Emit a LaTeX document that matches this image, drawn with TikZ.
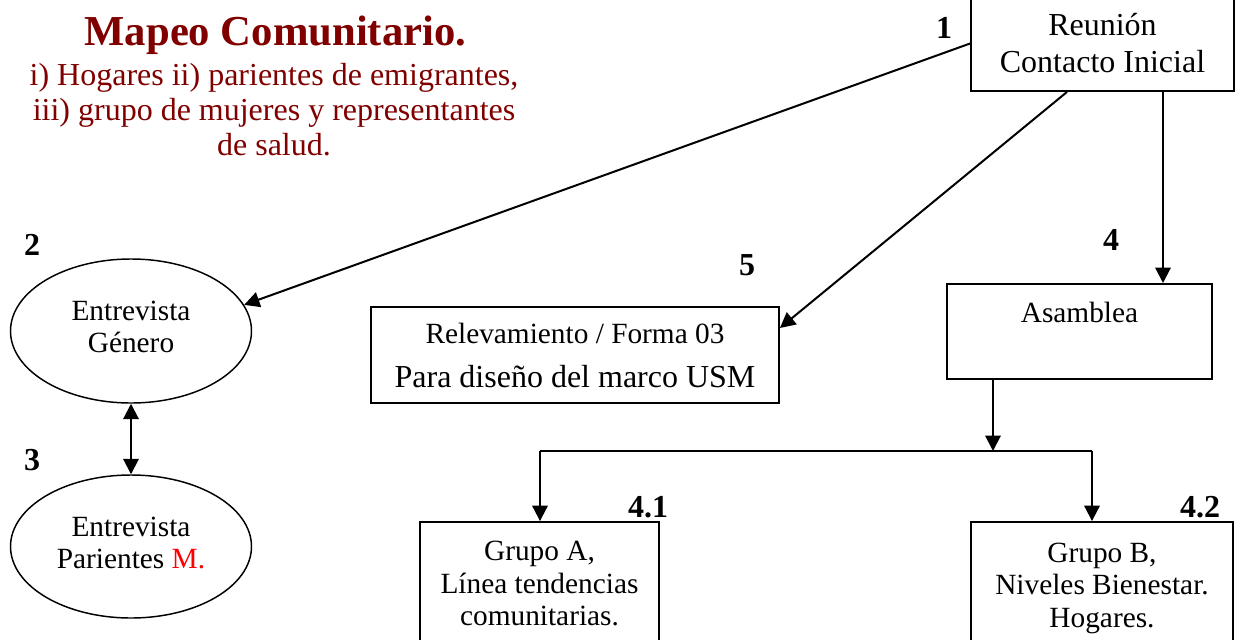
\documentclass[tikz,border=0pt]{standalone}
\usepackage{fontspec}
\setmainfont{Liberation Serif}
\usetikzlibrary{shapes.geometric,arrows.meta,calc}
\definecolor{maroon}{HTML}{800000}
\definecolor{redm}{HTML}{FF0000}
\tikzset{
  boxnode/.style={draw,line width=1.4pt,inner sep=0pt,align=center},
  ellnode/.style={draw,ellipse,line width=1.1pt,inner sep=0pt,align=center,font=\fontsize{22}{24}\selectfont},
  numlabel/.style={font=\fontsize{24}{26}\selectfont\bfseries,inner sep=0pt},
  conn/.style={line width=1.5pt},
  arr/.style={conn,-{Triangle[length=11.5pt,width=11.5pt]}},
  darr/.style={conn,{Triangle[length=11.5pt,width=11.5pt]}-{Triangle[length=11.5pt,width=11.5pt]}}
}
\begin{document}
\begin{tikzpicture}[x=0.75pt,y=-0.75pt]
\useasboundingbox (0,0) rectangle (1235,639);
\clip (0,0) rectangle (1235,639);
% title
\node[anchor=base,text=maroon,font=\fontsize{32}{36}\selectfont\bfseries,inner sep=0pt] (title) at (275.5,45) {Mapeo Comunitario.};
\node[text=maroon,font=\fontsize{24}{26.25}\selectfont,align=center,inner sep=0pt] (sub) at (274,110) {i) Hogares ii) parientes de emigrantes,\\iii) grupo de mujeres y representantes\\de salud.};
% boxes
\node[boxnode,minimum width=197.25pt,minimum height=71.25pt,font=\fontsize{24}{27.75}\selectfont] (reunion) at (1102.5,43.5) {Reunión\\Contacto Inicial};
\node[boxnode,anchor=north,minimum width=198.75pt,inner ysep=0pt,text height=29.25pt,text depth=42pt,font=\fontsize{22}{24}\selectfont] (asam) at (1079.5,283) {Asamblea};
\node[boxnode,minimum width=306pt,minimum height=72pt,font=\fontsize{24}{33}\selectfont] (relev) at (575,355) {{\fontsize{22}{33}\selectfont Relevamiento / Forma 03}\\Para diseño del marco USM};
\node[boxnode,minimum width=179.25pt,minimum height=92.25pt,font=\fontsize{22}{24.5}\selectfont] (grupoA) at (539.5,583.5) {Grupo A,\\Línea tendencias\\comunitarias.};
\node[boxnode,minimum width=196.5pt,minimum height=92.25pt,font=\fontsize{22}{24.5}\selectfont,text depth=0pt] (grupoB) at (1102,583.5) {\strut Grupo B,\\\strut Niveles Bienestar.\\\strut Hogares.};
% ellipses
\node[ellnode,minimum width=180.75pt,minimum height=108pt] (gen) at (131,331) {Entrevista\\Género\\[-18pt]\mbox{}};
\node[ellnode,minimum width=180.75pt,minimum height=107.25pt] (par) at (131,546.5) {Entrevista\\Parientes \textcolor{redm}{M.}\\[-18pt]\mbox{}};
% numbers
\node[numlabel] (n1) at (944,28) {1};
\node[numlabel] (n2) at (32,245) {2};
\node[numlabel] (n3) at (32,460) {3};
\node[numlabel] (n4) at (1111,240) {4};
\node[numlabel] (n5) at (747,265) {5};
\node[numlabel] (n41) at (648,507) {4.1};
\node[numlabel] (n42) at (1200,507) {4.2};
% connectors
\coordinate (split) at (993,451);
\coordinate (ja) at (540,451);
\coordinate (jb) at (1092,451);
\draw[arr] (reunion.west) -- (gen.13);
\draw[arr] ($(reunion.south)+(-35.5,0)$) -- ($(relev.east)+(0,-27)$);
\draw[arr] ($(reunion.south)+(60.5,0)$) -- ($(asam.north)+(83.5,0)$);
\draw[arr] (asam.south -| split) -- (split);
\draw[conn] (ja) -- (jb);
\draw[arr] (ja) -- (ja |- grupoA.north);
\draw[arr] (jb) -- (jb |- grupoB.north);
\draw[darr] (gen.south) -- (par.north);
\end{tikzpicture}
\end{document}
